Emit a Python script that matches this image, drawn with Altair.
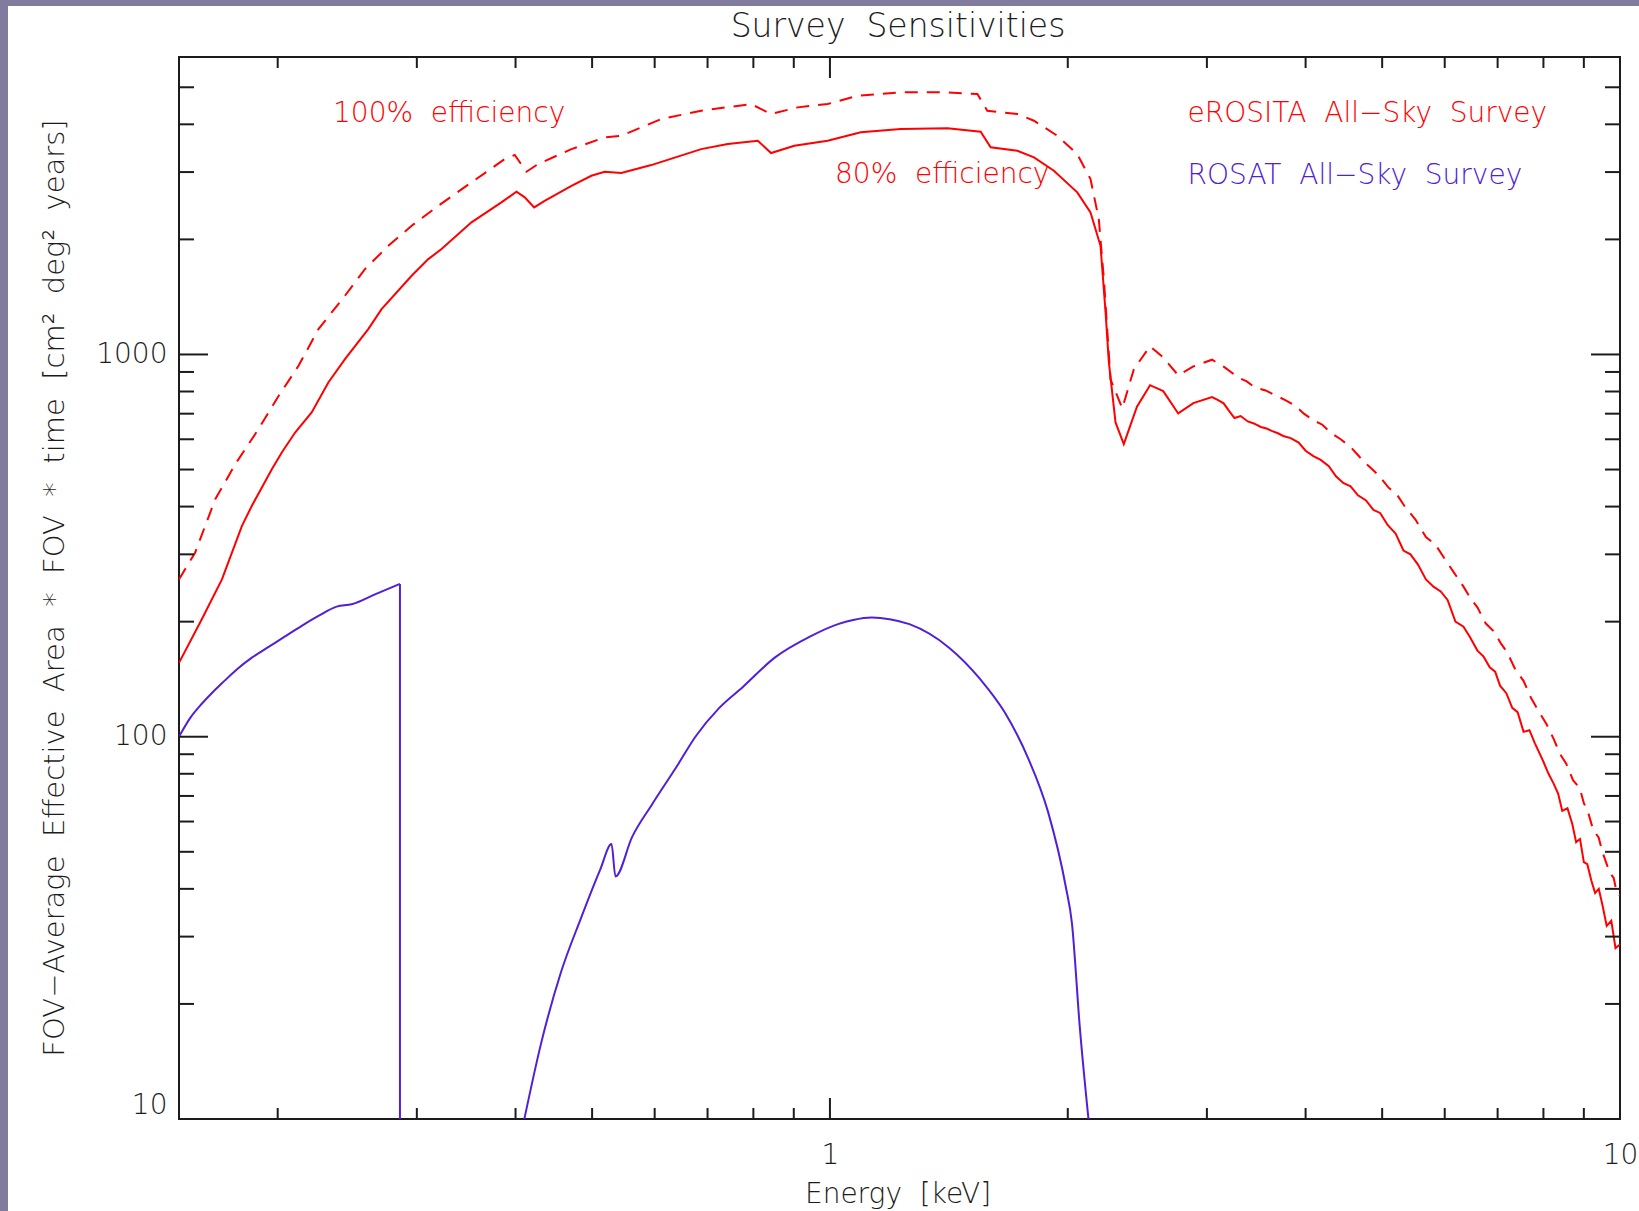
import altair as alt
import pandas as pd

# ---------------- data ----------------
# eROSITA All-Sky Survey, 80% efficiency (solid red)
ero80_E = [0.15, 0.1603, 0.1700, 0.1802, 0.1855, 0.1966, 0.2024, 0.2104, 0.2208, 0.2318,
           0.2433, 0.2604, 0.2707, 0.2955, 0.3102, 0.3224, 0.3518, 0.3838, 0.4011, 0.4109,
           0.4223, 0.4354, 0.4708, 0.4989, 0.5186, 0.5444, 0.5941, 0.6871, 0.7424, 0.8104,
           0.8423, 0.9014, 0.9933, 1.0943, 1.2294, 1.4084, 1.5515, 1.5974, 1.7266, 1.8123,
           1.9207, 2.0560, 2.1370, 2.2003, 2.2330, 2.2545, 2.2986, 2.3548, 2.4468, 2.5420,
           2.6414, 2.7595, 2.8836, 3.0451, 3.10, 3.15, 3.20, 3.2514, 3.31, 3.38,
           3.44, 3.5105, 3.57, 3.63, 3.69, 3.7478, 3.83, 3.92, 4.0, 4.0914,
           4.18, 4.28, 4.37, 4.4637, 4.56, 4.66, 4.77, 4.8742, 4.97, 5.08,
           5.2, 5.3198, 5.43, 5.55, 5.68, 5.8064, 5.93, 6.05, 6.19, 6.337,
           6.46, 6.6, 6.72, 6.8408, 6.95, 7.05, 7.18, 7.3049, 7.42, 7.55,
           7.68, 7.8036, 7.9, 8.0, 8.12, 8.2414, 8.35, 8.45, 8.58, 8.7017,
           8.8, 8.9, 9.0, 9.091, 9.2, 9.3, 9.4, 9.5006, 9.62, 9.75,
           9.87, 10.0]
ero80_V = [156, 203, 258, 356, 402, 501, 554, 625, 705, 845,
           972, 1165, 1314, 1606, 1776, 1887, 2216, 2499, 2665, 2576,
           2425, 2523, 2762, 2934, 3006, 2982, 3129, 3445, 3551, 3623,
           3364, 3515, 3623, 3811, 3888, 3904, 3825, 3482, 3411, 3278,
           3024, 2655, 2353, 1924, 1288, 953, 664, 583, 730, 831,
           802, 701, 746, 774, 760, 745, 712, 682, 690, 668,
           660, 646, 640, 630, 622, 612, 604, 588, 560, 542,
           530, 510, 480, 461, 452, 428, 415, 392, 385, 358,
           340, 307, 300, 282, 258, 247, 240, 228, 200, 194,
           182, 168, 162, 152, 148, 136, 130, 119, 116, 103,
           104, 96.1, 91, 86, 80, 75.4, 71, 64, 65, 59.1,
           53, 54, 47, 46.4, 42, 39, 40, 36.3, 32, 33,
           28, 28.6]

# eROSITA All-Sky Survey, 100% efficiency (dashed red)
ero100_E = [0.15, 0.1572, 0.1667, 0.1767, 0.1891, 0.2005, 0.2125, 0.2252, 0.2433, 0.2579,
            0.2761, 0.2955, 0.3193, 0.3518, 0.3876, 0.3991, 0.4129, 0.4272, 0.4708, 0.5186,
            0.5444, 0.6116, 0.6871, 0.7947, 0.8423, 0.9103, 0.9933, 1.0839, 1.2294, 1.4084,
            1.5369, 1.5820, 1.7266, 1.8123, 1.9398, 2.0560, 2.1370, 2.1893, 2.2219, 2.2655,
            2.3442, 2.4250, 2.5420, 2.6414, 2.7595, 2.8836, 3.0451, 3.16, 3.2872, 3.37,
            3.45, 3.56, 3.6668, 3.77, 3.88, 3.98, 4.0914, 4.2, 4.3, 4.43,
            4.5634, 4.68, 4.8, 4.94, 5.0907, 5.22, 5.35, 5.51, 5.6796, 5.84,
            6.0, 6.17, 6.337, 6.47, 6.6, 6.76, 6.9165, 7.06, 7.2, 7.37,
            7.5493, 7.72, 7.9, 8.07, 8.2414, 8.4, 8.55, 8.72, 8.8942, 9.0,
            9.1, 9.25, 9.3972, 9.5, 9.6, 9.71, 9.818, 9.91, 10.0]
ero100_V = [258, 303, 418, 516, 638, 779, 934, 1165, 1424, 1672,
            1924, 2171, 2449, 2819, 3244, 3324, 3006, 3148, 3445, 3698,
            3734, 4129, 4341, 4519, 4256, 4430, 4519, 4752, 4850, 4850,
            4800, 4341, 4256, 4087, 3734, 3344, 2876, 2260, 1574, 861,
            723, 915, 1051, 982, 882, 930, 969, 925, 870, 850,
            820, 805, 781, 760, 735, 700, 673, 655, 625, 600,
            572, 540, 512, 485, 449, 430, 398, 370, 333, 318,
            292, 268, 247, 230, 218, 198, 189, 176, 166, 150,
            140, 126, 116, 108, 98.7, 90, 85, 77, 73.4, 67,
            64, 57, 54.5, 50, 47, 44, 42.7, 39, 38.4]

# ROSAT All-Sky Survey (blue): soft band curve, its cut-off edge, and the hard band
rosat_lo_E = [0.15, 0.155, 0.1603, 0.165, 0.1700, 0.1775, 0.1855, 0.195, 0.2043, 0.2145,
              0.2252, 0.2375, 0.2481, 0.2660, 0.2856]
rosat_lo_V = [100, 112, 122, 130, 138, 150, 161, 172, 183, 195,
              207, 219, 222, 236, 251]
rosat_edge_E = [0.2856, 0.2856]
rosat_edge_V = [251, 10]
rosat_hi_E = [0.4104, 0.4307, 0.4563, 0.4834, 0.5121, 0.5291, 0.5352, 0.5619, 0.5951, 0.6413,
              0.6756, 0.7243, 0.7759, 0.8514, 0.9446, 1.0238, 1.07, 1.1296, 1.19, 1.2607,
              1.4151, 1.5515, 1.6634, 1.7822, 1.8883, 1.9890, 2.0242, 2.0713, 2.1244]
rosat_hi_V = [10, 15.7, 24.1, 33.3, 45.0, 52.4, 43.1, 54.7, 66.4, 84.2,
              100, 119, 135, 161, 183, 197, 202, 205, 203, 197,
              171, 141, 116, 87.8, 63.6, 40.4, 32.6, 17.4, 10]

# axis ticks and labels
x_domain = [0.15, 10]
y_domain = [10, 6000]
x_labels = [1, 10]
y_labels = [10, 100, 1000]
x_major_ticks = [1]
x_minor_ticks = [0.2, 0.3, 0.4, 0.5, 0.6, 0.7, 0.8, 0.9, 2, 3, 4, 5, 6, 7, 8, 9]
y_major_ticks = [100, 1000]
y_minor_ticks = [20, 30, 40, 50, 60, 70, 80, 90, 200, 300, 400, 500, 600, 700, 800, 900,
                 2000, 3000, 4000, 5000]

title_text = "Survey\u00a0 Sensitivities"
x_title = "Energy\u00a0 [keV]"
y_title = ("FOV\u2212Average\u00a0 Effective\u00a0 Area\u00a0 *\u00a0 FOV\u00a0 *\u00a0 time\u00a0 "
           "[cm\u00b2\u00a0 deg\u00b2\u00a0 years]")
label_100 = "100%\u00a0 efficiency"
label_80 = "80%\u00a0 efficiency"
label_ero = "eROSITA\u00a0 All\u2212Sky\u00a0 Survey"
label_rosat = "ROSAT\u00a0 All\u2212Sky\u00a0 Survey"

# ---------------- styling ----------------
W, H = 1441, 1062
FONT = "DejaVu Sans"
RED = "#ff0000"
BLUE = "#5020d8"
INK = "#1c1c1c"
PURPLE = "#817b9e"

xs = alt.Scale(type="log", domain=x_domain, nice=False)
ys = alt.Scale(type="log", domain=y_domain, nice=False)

xaxis = alt.Axis(values=x_labels, format="d", ticks=False, tickSize=0, domain=False, grid=False,
                 labelFont=FONT, labelFontSize=28, labelFontWeight=300, labelColor=INK,
                 labelPadding=22, labelFlush=False, labelOverlap=False, labelBound=False,
                 title=None)
yaxis = alt.Axis(values=y_labels, format="d", ticks=False, tickSize=0, domain=False, grid=False,
                 labelFont=FONT, labelFontSize=28, labelFontWeight=300, labelColor=INK,
                 labelPadding=12, labelFlush=True, labelOverlap=False, labelBound=False,
                 title=None)


def X():
    return alt.X("E:Q", scale=xs, axis=xaxis)


def Y():
    return alt.Y("V:Q", scale=ys, axis=yaxis)


def series(E, V):
    return pd.DataFrame({"E": E, "V": V, "i": list(range(len(E)))})


def line(E, V, color, dash=None, interp="linear", width=2):
    kw = dict(color=color, strokeWidth=width, clip=True, interpolate=interp)
    if dash:
        kw["strokeDash"] = dash
    return alt.Chart(series(E, V)).mark_line(**kw).encode(x=X(), y=Y(), order="i:Q")


def xticks(vals, length):
    df = pd.DataFrame({"E": vals})
    base = alt.Chart(df).mark_rule(color=INK, strokeWidth=2)
    bottom = base.encode(x=X(), y=alt.value(H), y2=alt.value(H - length))
    top = base.encode(x=X(), y=alt.value(0), y2=alt.value(length))
    return [bottom, top]


def yticks(vals, length):
    df = pd.DataFrame({"V": vals})
    base = alt.Chart(df).mark_rule(color=INK, strokeWidth=2)
    left = base.encode(y=Y(), x=alt.value(0), x2=alt.value(length))
    right = base.encode(y=Y(), x=alt.value(W), x2=alt.value(W - length))
    return [left, right]


one = alt.Data(values=[{"k": 0}])


def text(t, x, y, color=INK, size=28, align="left", baseline="alphabetic", angle=0):
    return alt.Chart(one).mark_text(
        text=t, x=x, y=y, color=color, font=FONT, fontSize=size, fontWeight=300,
        align=align, baseline=baseline, angle=angle)


def strip(x0, x1, y0, y1):
    return alt.Chart(one).mark_rect(color=PURPLE).encode(
        x=alt.value(x0), x2=alt.value(x1), y=alt.value(y0), y2=alt.value(y1))


layers = [
    strip(-179, 1460, -57, -51),
    strip(-179, -171, -57, 1154),
    line(ero100_E, ero100_V, RED, dash=[13, 9]),
    line(ero80_E, ero80_V, RED),
    line(rosat_lo_E, rosat_lo_V, BLUE, interp="monotone"),
    line(rosat_edge_E, rosat_edge_V, BLUE),
    line(rosat_hi_E, rosat_hi_V, BLUE, interp="monotone"),
]
layers += xticks(x_major_ticks, 21) + xticks(x_minor_ticks, 11)
layers += yticks(y_major_ticks, 29) + yticks(y_minor_ticks, 15)
layers += [
    text(title_text, 719, -20, size=33, align="center"),
    text(x_title, 719, 1146, size=28, align="center"),
    text(y_title, -123.6, 531, size=29, align="center", baseline="middle", angle=270),
    text(label_100, 154, 64.7, color=RED),
    text(label_80, 656, 126.3, color=RED),
    text(label_ero, 1008.6, 65, color=RED),
    text(label_rosat, 1008.6, 127.3, color=BLUE),
]

chart = alt.layer(*layers).properties(
    width=W, height=H,
    autosize=alt.AutoSizeParams(type="none"),
    padding={"left": 179, "top": 57, "right": 19, "bottom": 92},
    background="white",
).configure_view(stroke=INK, strokeWidth=2)

chart.save("out.html", embed_options={"renderer": "svg", "actions": False})
